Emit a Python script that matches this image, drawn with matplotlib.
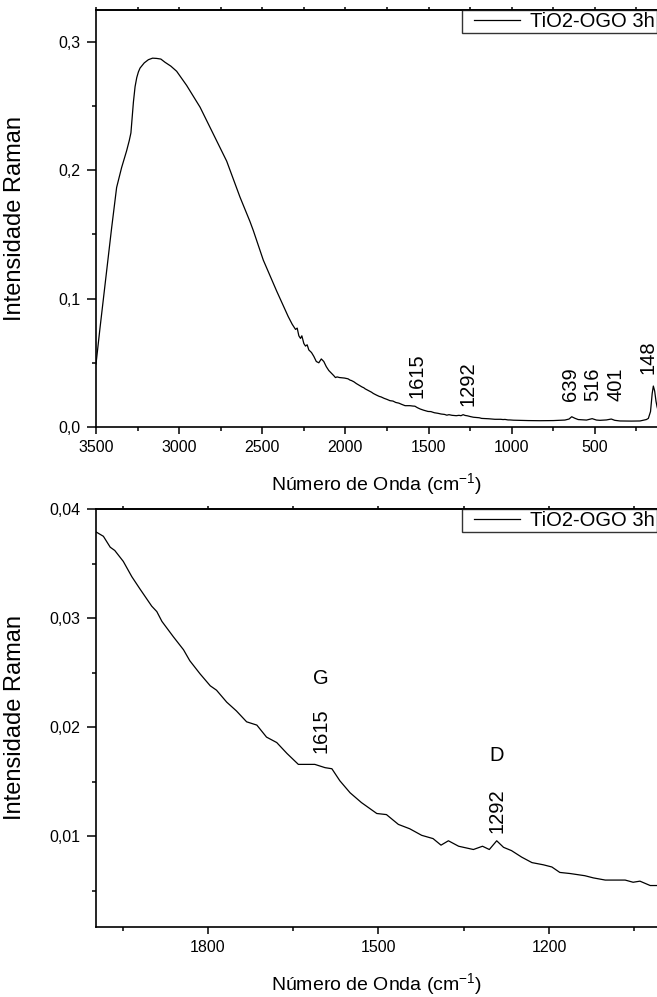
import numpy as np
import matplotlib
matplotlib.use('Agg')
from matplotlib import pyplot as plt
from matplotlib.ticker import MultipleLocator, FuncFormatter, NullFormatter
from matplotlib.legend_handler import HandlerLine2D

plt.rcParams['font.family'] = ['Liberation Sans', 'DejaVu Sans']
plt.rcParams['mathtext.default'] = 'regular'

# Raman spectrum, TiO2-OGO 3h (wavenumber in cm-1, intensity)
wavenumber = [
    3500, 3476, 3436, 3406, 3376, 3346, 3316, 3300, 3290, 3280, 3275, 3265,
    3255, 3245, 3235, 3210, 3185, 3160, 3135, 3110, 3085, 3050, 3015, 2955,
    2874, 2794, 2714, 2634, 2574, 2554, 2494, 2414, 2344, 2320, 2300, 2290,
    2280, 2270, 2262, 2250, 2240, 2230, 2220, 2204, 2190, 2175, 2160, 2145,
    2130, 2115, 2100, 2085, 2070, 2060, 2050, 2035, 2020, 2005,
    1997, 1984, 1972, 1964, 1949, 1934, 1920, 1899, 1890, 1881, 1861, 1843,
    1832, 1814, 1796, 1785, 1767, 1750, 1732, 1714, 1697, 1679, 1661, 1641,
    1626, 1612, 1594, 1582, 1568, 1550, 1530, 1503, 1486, 1465, 1445, 1424,
    1404, 1390, 1377, 1359, 1333, 1317, 1305, 1292, 1280, 1266, 1248, 1230,
    1210, 1195, 1181, 1163, 1137, 1122, 1101, 1066, 1052, 1040, 1022, 1010,
    990, 900, 830, 750, 680, 655, 639, 620, 600, 550, 516, 490, 469, 430,
    401, 380, 349, 280, 228, 190, 178, 165, 155, 148, 140, 132, 126, 120,
]
intensity = [
    0.049, 0.077, 0.122, 0.155, 0.1865, 0.202, 0.215, 0.223, 0.229, 0.245,
    0.253, 0.265, 0.272, 0.2765, 0.2795, 0.2835, 0.286, 0.2872, 0.287,
    0.2865, 0.284, 0.281, 0.277, 0.266, 0.249, 0.228, 0.207, 0.179, 0.160,
    0.153, 0.130, 0.106, 0.086, 0.080, 0.076, 0.077, 0.071, 0.069, 0.071,
    0.065, 0.063, 0.064, 0.060, 0.058, 0.055, 0.051, 0.050, 0.053, 0.051,
    0.047, 0.044, 0.042, 0.040, 0.0385, 0.0390, 0.0385, 0.0383, 0.0381,
    0.0379, 0.0375, 0.0365, 0.0362, 0.0352, 0.0338, 0.0327, 0.0311, 0.0306,
    0.0297, 0.0283, 0.0271, 0.0261, 0.0249, 0.0238, 0.0234, 0.0223, 0.0215,
    0.0205, 0.0202, 0.0191, 0.0186, 0.0176, 0.0166, 0.0166, 0.0166, 0.0163,
    0.0162, 0.0151, 0.0140, 0.0131, 0.0121, 0.0120, 0.0111, 0.0107, 0.0101,
    0.0098, 0.0092, 0.0096, 0.0091, 0.0088, 0.0091, 0.0088, 0.0096, 0.0090,
    0.0087, 0.0081, 0.0076, 0.0074, 0.0072, 0.0067, 0.0066, 0.0064, 0.0062,
    0.0060, 0.0060, 0.0058, 0.0059, 0.0055, 0.0055,
    0.0053, 0.0050, 0.0049, 0.0050, 0.0054, 0.0062, 0.0080, 0.0068, 0.0058,
    0.0054, 0.0065, 0.0054, 0.0052, 0.0055, 0.0062, 0.0052, 0.0047, 0.0046,
    0.0047, 0.0058, 0.0067, 0.0120, 0.0260, 0.0319, 0.0280, 0.0200, 0.0160,
    0.0130,
]

# peak labels: text, x, y (bottom of rotated text)
top_peaks = [('1615', 1571, 0.0223), ('1292', 1263, 0.0163),
             ('639', 649, 0.0205), ('516', 511, 0.0205),
             ('401', 373, 0.0205), ('148', 183, 0.041)]
bottom_peaks = [('1615', 1601, 0.0176), ('1292', 1292, 0.0103)]
bands = [('G', 1601, 0.0245), ('D', 1293, 0.0174)]

series_name = 'TiO2-OGO 3h'
x_label = r'Número de Onda (cm$^{-1}$)'
y_label = 'Intensidade Raman'

W, H = 657, 997
fig = plt.figure(figsize=(W / 100, H / 100), dpi=100)


class GapLine(HandlerLine2D):
    # legend line starts a bit right of the frame, like Origin does
    def get_xdata(self, legend, xdescent, ydescent, width, height, fontsize):
        xdata = np.array([-xdescent + 0.5 * fontsize, -xdescent + width])
        return xdata, xdata


def px_axes(left, top, right, bottom):
    return fig.add_axes([left / W, 1 - bottom / H, (right - left) / W, (bottom - top) / H])


def style_axes(ax, major_x, minor_x, major_y, minor_y, fmt):
    for side in ['left', 'bottom', 'top']:
        ax.spines[side].set_linewidth(1.2)
    ax.spines['right'].set_visible(False)
    ax.xaxis.set_major_locator(MultipleLocator(major_x))
    ax.xaxis.set_minor_locator(MultipleLocator(minor_x))
    ax.yaxis.set_major_locator(MultipleLocator(major_y))
    ax.yaxis.set_minor_locator(MultipleLocator(minor_y))
    ax.yaxis.set_major_formatter(FuncFormatter(lambda v, p: (fmt % v).replace('.', ',')))
    ax.tick_params(which='both', direction='out', width=1.1, labelsize=11.5,
                   top=False, right=False)
    ax.tick_params(axis='x', which='major', length=5, pad=4)
    ax.tick_params(axis='x', which='minor', length=3)
    ax.tick_params(axis='y', which='major', length=6.2, pad=5)
    ax.tick_params(axis='y', which='minor', length=3.1)

    # small ticks on the top spine, no labels
    top = ax.secondary_xaxis('top')
    top.xaxis.set_major_locator(MultipleLocator(minor_x))
    top.xaxis.set_major_formatter(NullFormatter())
    top.tick_params(which='both', direction='out', length=2.5, width=1.1)
    top.spines['top'].set_linewidth(1.2)

    ax.set_xlabel(x_label, fontsize=14, labelpad=12)
    ax.set_ylabel(y_label, fontsize=17)
    ax.yaxis.set_label_coords(-0.125, 0.5)
    leg = ax.legend(loc='upper right', fontsize=14.5, frameon=True, fancybox=False,
                    borderaxespad=0, borderpad=0.1, handlelength=2.8,
                    handletextpad=0.5, edgecolor='black',
                    handler_map={plt.Line2D: GapLine()})
    leg.get_frame().set_linewidth(1.0)


# top panel: full spectrum
ax1 = px_axes(96, 10, 657, 427)
ax1.plot(wavenumber, intensity, color='black', lw=0.9, label=series_name)
ax1.set_xlim(3500, 126)
ax1.set_ylim(0, 0.3247)
style_axes(ax1, 500, 250, 0.1, 0.05, '%.1f')
for txt, x, y in top_peaks:
    ax1.text(x, y, txt, rotation=90, ha='center', va='bottom', fontsize=14.5)

# bottom panel: zoom on D and G bands
ax2 = px_axes(96, 509, 657, 927)
ax2.plot(wavenumber, intensity, color='black', lw=0.9, label=series_name)
ax2.set_xlim(1997, 1010)
ax2.set_ylim(0.0017, 0.04)
style_axes(ax2, 300, 150, 0.01, 0.005, '%.2f')
for txt, x, y in bottom_peaks:
    ax2.text(x, y, txt, rotation=90, ha='center', va='bottom', fontsize=14.5)
for txt, x, y in bands:
    ax2.text(x, y, txt, ha='center', va='center', fontsize=14.5)

fig.savefig('out.png', dpi=100)
